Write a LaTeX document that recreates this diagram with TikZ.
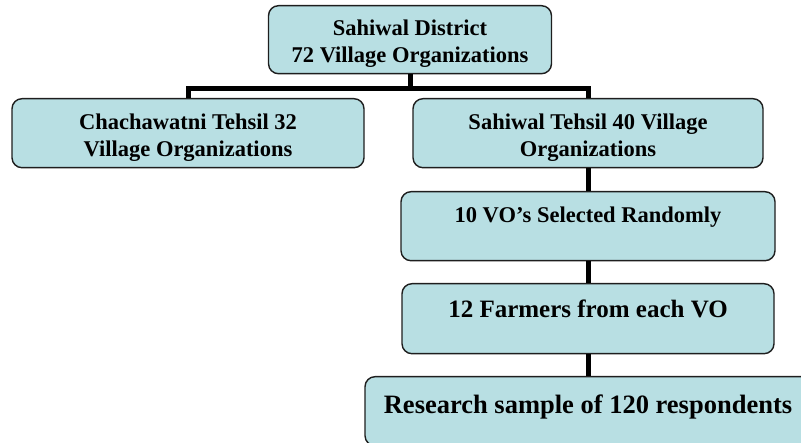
\documentclass[tikz,border=0pt]{standalone}
\usepackage{fontspec}
\setmainfont{Liberation Serif}
\definecolor{boxfill}{HTML}{B8DFE3}
\definecolor{boxline}{HTML}{1E1E1E}
\newcommand\boxtxt[2]{\parbox[t]{#1}{\centering #2}}
\begin{document}
\begin{tikzpicture}[x=1pt,y=-1pt,
  box/.style={draw=boxline, line width=1.4pt, fill=boxfill, rounded corners=10pt,
    inner sep=0pt, font=\bfseries\fontsize{22.5}{26.8}\selectfont},
  conn/.style={line width=5pt, line join=miter, draw=black}]
\useasboundingbox (0,0) rectangle (801,443);
\clip (0,0) rectangle (801,443);
\node[box, anchor=north, text height=30pt, text depth=38pt] (top) at (410,5)
  {\boxtxt{283pt}{Sahiwal District\\72 Village Organizations}};
\node[box, anchor=north, text height=31pt, text depth=38pt] (left) at (188,98)
  {\boxtxt{352pt}{Chachawatni Tehsil 32\\Village Organizations}};
\node[box, anchor=north, text height=31pt, text depth=38pt] (right) at (588,98)
  {\boxtxt{350pt}{Sahiwal Tehsil 40 Village\\Organizations}};
\node[box, anchor=north, minimum width=374pt, text height=31pt, text depth=38pt] (vo) at (588,191)
  {10 VO’s Selected Randomly};
\node[box, anchor=north, minimum width=372pt, text height=34pt, text depth=36pt,
  font=\bfseries\fontsize{25}{30}\selectfont] (farm) at (588,283)
  {12 Farmers from each VO};
\node[box, anchor=north, minimum width=446pt, text height=37pt, text depth=32pt,
  font=\bfseries\fontsize{26.5}{31}\selectfont] (res) at (588,376)
  {Research sample of 120 respondents};
\draw[conn] (top.south) -- ++(0,14) coordinate (bar);
\draw[conn] (left.north) |- (bar) -| (right.north);
\draw[conn] (right.south) -- (vo.north);
\draw[conn] (vo.south) -- (farm.north);
\draw[conn] (farm.south) -- (res.north);
\end{tikzpicture}
\end{document}
